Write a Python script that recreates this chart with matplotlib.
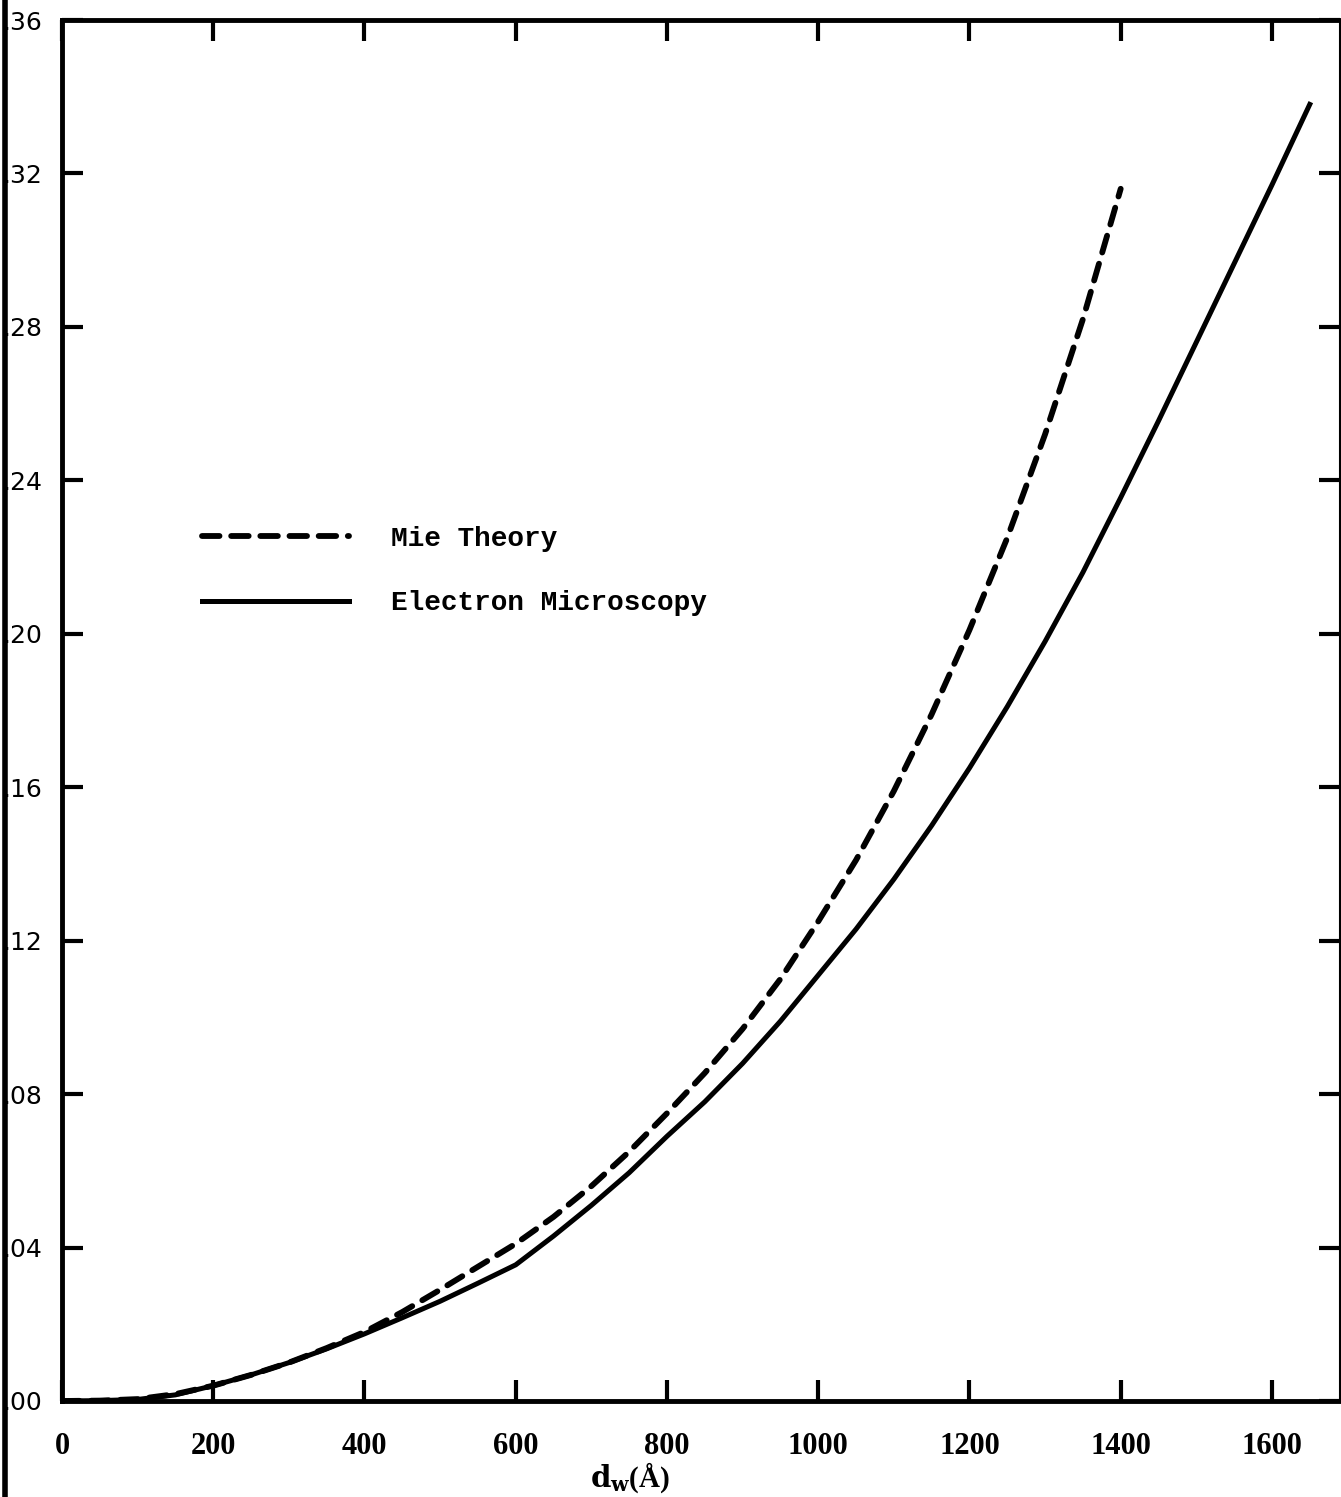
import numpy as np
import matplotlib
matplotlib.use("Agg")
import matplotlib.pyplot as plt
from matplotlib.lines import Line2D

plt.rcParams["mathtext.fontset"] = "dejavuserif"

# data

mie_d = [0, 50, 100, 150, 200, 250, 300, 350, 400, 450, 500, 550, 600,
         650, 700, 750, 800, 850, 900, 950, 1000, 1050, 1100, 1150, 1200,
         1250, 1300, 1350, 1400]
mie_val = [0.0, 0.0001, 0.0005, 0.0018, 0.004, 0.0068, 0.010, 0.0138,
           0.018, 0.0232, 0.029, 0.035, 0.041, 0.048, 0.056, 0.065, 0.075,
           0.0855, 0.097, 0.110, 0.125, 0.141, 0.159, 0.179, 0.201, 0.225,
           0.252, 0.282, 0.316]

em_d = [0, 50, 100, 150, 200, 250, 300, 350, 400, 450, 500, 550, 600,
        650, 700, 750, 800, 850, 900, 950, 1000, 1050, 1100, 1150, 1200,
        1250, 1300, 1350, 1400, 1450, 1500, 1550, 1600, 1650]
em_val = [0.0, 0.0001, 0.0004, 0.0016, 0.004, 0.0068, 0.010, 0.0136,
          0.0175, 0.0217, 0.026, 0.0307, 0.0355, 0.043, 0.051, 0.0595,
          0.069, 0.078, 0.088, 0.099, 0.111, 0.123, 0.136, 0.150, 0.165,
          0.181, 0.198, 0.216, 0.2355, 0.2555, 0.276, 0.2965, 0.317, 0.338]

x_ticks = [0, 200, 400, 600, 800, 1000, 1200, 1400, 1600]
y_ticks = [0.00, 0.04, 0.08, 0.12, 0.16, 0.20, 0.24, 0.28, 0.32, 0.36]

W, H = 1341, 1497

fig = plt.figure(figsize=(W / 100, H / 100), dpi=100)
ax = fig.add_axes([62 / W, (H - 1401) / H, (1340 - 62) / W, (1401 - 20) / H])

ax.plot(mie_d, mie_val, color="black", lw=4.2, ls=(0, (3.0, 2.0)),
        dash_capstyle="round", label="Mie Theory")
ax.plot(em_d, em_val, color="black", lw=3.6, label="Electron Microscopy")

ax.set_xlim(0, 1690)
ax.set_ylim(0, 0.36)

ax.set_xticks(x_ticks)
ax.set_yticks(y_ticks)
ax.set_yticklabels([f"{v:.2f}"[1:] for v in y_ticks])

for side in ["left", "bottom", "top"]:
    ax.spines[side].set_linewidth(3.5)
ax.spines["right"].set_linewidth(1.5)

ax.tick_params(axis="both", which="major", direction="in", color="black",
               top=True, right=True, length=15, width=3.0)
ax.tick_params(axis="x", pad=22, labelsize=22)
ax.tick_params(axis="y", pad=14, labelsize=18)

for lab in ax.get_xticklabels():
    lab.set_fontfamily("Liberation Serif")
    lab.set_fontweight("bold")
for lab in ax.get_yticklabels():
    lab.set_fontfamily("DejaVu Sans")

ax.set_xlabel(r"$\mathbf{d_w}$(Å)", fontsize=21, fontfamily="Liberation Serif",
              fontweight="bold")
ax.xaxis.set_label_coords((630 - 62) / 1278, -0.043)

leg = ax.legend(loc="upper left", bbox_to_anchor=(0.09, 0.652), frameon=False,
                prop={"family": "Liberation Mono", "weight": "bold", "size": 20},
                handlelength=5.3, handletextpad=1.5, labelspacing=1.4)

# dark paper edge along the left of the scan
fig.add_artist(Line2D([5 / W, 5 / W], [0, 1], color="black", lw=4,
                      transform=fig.transFigure))

fig.savefig("out.png", dpi=100)
